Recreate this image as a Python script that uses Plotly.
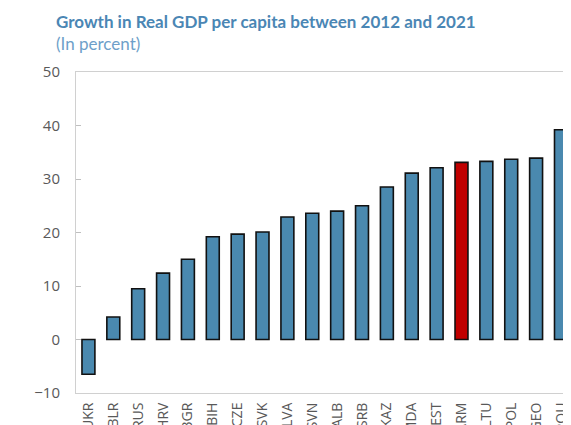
import plotly.graph_objects as go

countries = ["UKR", "BLR", "RUS", "HRV", "BGR", "BIH", "CZE", "SVK", "LVA", "SVN",
             "ALB", "SRB", "KAZ", "MDA", "EST", "ARM", "LTU", "POL", "GEO", "ROU"]
growth = [-6.5, 4.2, 9.5, 12.4, 15.0, 19.2, 19.7, 20.1, 22.9, 23.6,
          24.0, 25.0, 28.5, 31.1, 32.1, 33.1, 33.3, 33.7, 33.9, 39.2]
highlight = "ARM"

BLUE = "#4A89AF"
RED = "#C00000"
GRAY_TXT = "#595959"
GRID = "#BFBFBF"

colors = [RED if c == highlight else BLUE for c in countries]
idx = list(range(len(countries)))

W, H = 571, 425
ML, MT, MB, MR = 68, 64, 40, 0
PW = W - ML - MR
PH = H - MT - MB
x_hi = -0.5 + PW / 24.87

fig = go.Figure()
fig.add_trace(go.Bar(
    x=idx, y=growth,
    marker=dict(color=colors, line=dict(color="#111111", width=1.6)),
    width=0.52,
    hoverinfo="skip",
))

fig.update_layout(
    width=W, height=H,
    margin=dict(l=ML, r=MR, t=MT, b=MB, autoexpand=False),
    paper_bgcolor="white", plot_bgcolor="white",
    showlegend=False,
    font=dict(family="Lato", color=GRAY_TXT),
    xaxis=dict(
        range=[-0.5, x_hi],
        tickmode="array", tickvals=idx, ticktext=countries,
        tickangle=-90,
        tickfont=dict(family="Open Sans", size=14, color=GRAY_TXT),
        ticks="outside", ticklen=3, tickcolor="rgba(0,0,0,0)",
        showline=True, linecolor="#D0D0D0", linewidth=1, mirror=True,
        showgrid=False, zeroline=False, automargin=False,
    ),
    xaxis2=dict(
        overlaying="x", anchor="free", position=1/6,
        range=[-0.5, x_hi],
        tickmode="array", tickvals=[i + 0.5 for i in idx],
        showticklabels=False,
        ticks="inside", ticklen=5, tickcolor=GRID, tickwidth=1,
        showline=True, linecolor=GRID, linewidth=1,
        showgrid=False, zeroline=False,
    ),
    yaxis=dict(
        range=[-10, 50], tickvals=[-10, 0, 10, 20, 30, 40, 50],
        tickfont=dict(family="Open Sans", size=15, color=GRAY_TXT),
        ticks="inside", ticklen=5, tickcolor=GRID,
        ticklabelstandoff=12,
        showline=True, linecolor="#D0D0D0", linewidth=1, mirror=True,
        showgrid=False, zeroline=False, automargin=False,
    ),
    annotations=[
        dict(text="<b>Growth in Real GDP per capita between 2012 and 2021</b>",
             xref="paper", yref="paper", x=-22 / PW, y=1 + 51 / PH,
             xanchor="left", yanchor="middle", showarrow=False,
             font=dict(family="Lato", size=17, color="#4A86B4")),
        dict(text="(In percent)",
             xref="paper", yref="paper", x=-22 / PW, y=1 + 29 / PH,
             xanchor="left", yanchor="middle", showarrow=False,
             font=dict(family="Lato", size=17, color="#6E9FC9")),
    ],
)

fig.write_html("out.html")
